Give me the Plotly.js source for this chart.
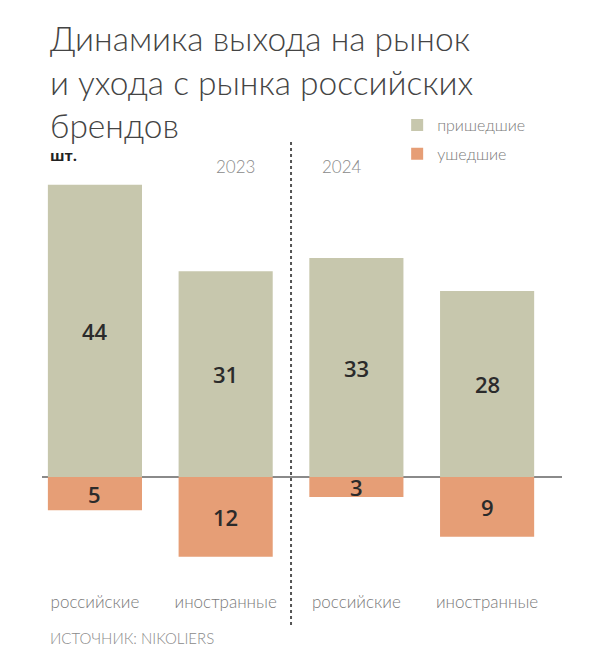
<!DOCTYPE html>
<html>
<head>
<meta charset="utf-8">
<script src="https://cdn.plot.ly/plotly-3.0.1.min.js"></script>
<style>
  html, body { margin: 0; padding: 0; background: #fff; }
  #chart { width: 605px; height: 669px; }
</style>
</head>
<body>
<div id="chart"></div>
<script>
// данные
const years = ['2023', '2024'];
const categories = ['российские', 'иностранные', 'российские', 'иностранные'];
const arrived = [44, 31, 33, 28];   // пришедшие
const departed = [5, 12, 3, 9];     // ушедшие

const GREY = '#c7c7ad';
const ORANGE = '#e69e76';
const xIdx = categories.map((c, i) => i);

const traces = [
    {
        x: xIdx, y: arrived, type: 'bar', name: 'пришедшие',
        marker: { color: GREY }, width: 0.72, hoverinfo: 'skip',
        legendgroup: 'a'
    },
    {
        x: xIdx, y: departed.map(v => -v), type: 'bar', name: 'ушедшие',
        marker: { color: ORANGE }, width: 0.72, hoverinfo: 'skip',
        legendgroup: 'b'
    }
];

const valFont = { family: 'Open Sans, sans-serif', size: 22, color: '#2b2b2b', weight: 600 };
const light = '"Lato Light", Lato, "Open Sans", sans-serif';

const annotations = [];
arrived.forEach((v, i) => {
    annotations.push({ x: i, y: v / 2, text: String(v), showarrow: false, font: valFont });
});
departed.forEach((v, i) => {
    annotations.push({ x: i, y: -v / 2, text: String(v), showarrow: false, font: valFont });
});

// заголовок
annotations.push({
    xref: 'paper', yref: 'paper', x: 0.0115, y: 1.143,
    xanchor: 'left', yanchor: 'middle', align: 'left', showarrow: false,
    text: 'Динамика выхода на рынок<br>и ухода с рынка российских<br>брендов',
    font: { family: light, size: 33.5, color: '#444', weight: 300 }
});

annotations.push({
    xref: 'paper', yref: 'paper', x: 0.0115, y: 0.9775, xanchor: 'left', yanchor: 'middle',
    text: 'шт.', showarrow: false,
    font: { family: 'Open Sans, sans-serif', size: 15, color: '#222', weight: 700 }
});
years.forEach((yr, i) => {
    annotations.push({
        xref: 'paper', yref: 'paper', x: [0.373, 0.577][i], y: 0.9506,
        xanchor: 'center', yanchor: 'middle', text: yr, showarrow: false,
        font: { family: light, size: 17, color: '#8a8a8a', weight: 300 }
    });
});
annotations.push({
    xref: 'paper', yref: 'paper', x: 0.0115, y: -0.1079, xanchor: 'left', yanchor: 'middle',
    text: 'ИСТОЧНИК: NIKOLIERS', showarrow: false,
    font: { family: light, size: 15, color: '#8a8a8a', weight: 300 }
});

const layout = {
    width: 605, height: 669,
    paper_bgcolor: '#fff', plot_bgcolor: '#fff',
    margin: { t: 145, l: 42, r: 43, b: 79 },
    barmode: 'relative',
    showlegend: true,
    legend: {
        x: 0.683, y: 1.083, xanchor: 'left', yanchor: 'top',
        font: { family: light, size: 16, color: '#7a7a7a', weight: 300 },
        tracegroupgap: 5, itemclick: false, bgcolor: 'rgba(0,0,0,0)'
    },
    xaxis: {
        range: [-0.405, 3.573], tickvals: xIdx, ticktext: categories,
        showgrid: false, zeroline: false, showline: false, ticks: '',
        tickfont: { family: light, size: 17, color: '#7a7a7a', weight: 300 }, fixedrange: true
    },
    yaxis: {
        range: [-17, 50], showgrid: false, showticklabels: false, ticks: '',
        zeroline: true, zerolinecolor: '#8a8a8a', zerolinewidth: 2, fixedrange: true
    },
    shapes: [{
        type: 'line', xref: 'x', yref: 'paper', x0: 1.5, x1: 1.5, y0: 1.0067, y1: -0.0854,
        line: { color: '#555', width: 2, dash: 'dot' }
    }],
    annotations: annotations
};

Plotly.newPlot('chart', traces, layout, { displayModeBar: false, staticPlot: true });
</script>
</body>
</html>
